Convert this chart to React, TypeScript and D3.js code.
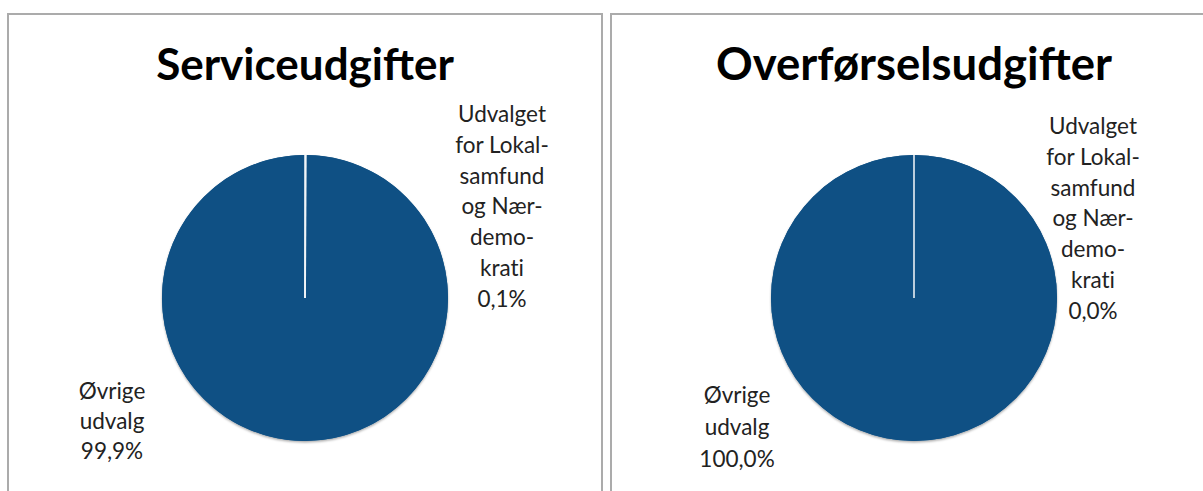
import React, { useEffect, useRef } from 'react';
import * as d3 from 'd3';

// chart titles
const titles = ["Serviceudgifter", "Overførselsudgifter"];

// categories (first slice starts at 12 o'clock, clockwise, like Excel)
const categories = ["Udvalget for Lokalsamfund og Nærdemokrati", "Øvrige udvalg"];
const categoryLines = [
    ["Udvalget", "for Lokal-", "samfund", "og Nær-", "demo-", "krati"],
    ["Øvrige", "udvalg"]
];

// series values (percent)
const serviceValues = [0.1, 99.9];
const overfoerselValues = [0.0, 100.0];

const W = 1203, H = 491;
const pieColor = "#0f5084";
const textColor = "#222";
const font = "Lato, 'Open Sans', sans-serif";

const locale = d3.formatLocale({ decimal: ",", thousands: ".", grouping: [3], currency: ["", " kr."] });
const fmt = locale.format(".1f");

export default function App() {
    const ref = useRef<SVGSVGElement>(null);

    useEffect(() => {
        const svg = d3.select(ref.current);
        svg.selectAll("*").remove();

        const defs = svg.append("defs");
        const f = defs.append("filter").attr("id", "shadow")
            .attr("x", "-10%").attr("y", "-10%").attr("width", "120%").attr("height", "120%");
        f.append("feDropShadow").attr("dx", 0).attr("dy", 1.5).attr("stdDeviation", 1.2)
            .attr("flood-color", "#000").attr("flood-opacity", 0.35);

        // panel layout: frame, pie centre, label anchors
        const panels = [
            { x: 8, w: 594, cx: 305, cy: 298, small: [502, 113], big: [112, 390], bigStep: 30, values: serviceValues },
            { x: 611, w: 620, cx: 914, cy: 298, small: [1093, 125], big: [737, 394], bigStep: 32, values: overfoerselValues }
        ];
        const r = 143;
        const lineStep = 30.8;

        const pie = d3.pie<number>().sort(null).value(d => d);
        const arc = d3.arc<d3.PieArcDatum<number>>().innerRadius(0).outerRadius(r);

        panels.forEach((p, pi) => {
            const g = svg.append("g");

            // frame
            g.append("rect")
                .attr("x", p.x).attr("y", 14)
                .attr("width", p.w).attr("height", H)
                .attr("fill", "#fff")
                .attr("stroke", "#ababab")
                .attr("stroke-width", 2);

            // title
            g.append("text")
                .attr("x", p.cx).attr("y", 80)
                .attr("text-anchor", "middle")
                .style("font-family", font)
                .style("font-weight", "bold")
                .style("font-size", pi === 0 ? "44px" : "45.5px")
                .style("fill", "#000")
                .text(titles[pi]);

            // pie
            const arcs = pie(p.values);
            const pg = g.append("g").attr("transform", "translate(" + p.cx + "," + p.cy + ")");
            pg.append("circle").attr("r", r).attr("fill", pieColor).attr("filter", "url(#shadow)");
            pg.selectAll("path.slice")
                .data(arcs)
                .enter()
                .append("path")
                .attr("class", "slice")
                .attr("d", arc)
                .attr("fill", pieColor);

            // white slice borders (also visible for a 0 % slice)
            pg.selectAll("line.border")
                .data(arcs.filter(a => a.startAngle > 0 || a.index === 0))
                .enter()
                .append("line")
                .attr("class", "border")
                .attr("x1", 0).attr("y1", 0)
                .attr("x2", d => d3.pointRadial(d.startAngle, r)[0])
                .attr("y2", d => d3.pointRadial(d.startAngle, r)[1])
                .attr("stroke", "#fff")
                .attr("stroke-opacity", 0.8)
                .attr("stroke-width", 1.8);

            // data labels
            p.values.forEach((v, i) => {
                const lines = categoryLines[i].concat([fmt(v) + "%"]);
                const [lx, ly] = i === 0 ? p.small : p.big;
                const step = i === 0 ? lineStep : p.bigStep;
                const t = g.append("text")
                    .attr("text-anchor", "middle")
                    .attr("dominant-baseline", "central")
                    .style("font-family", font)
                    .style("font-size", "22.5px")
                    .style("font-variant-ligatures", "none")
                    .style("fill", textColor);
                t.append("title").text(categories[i]);
                lines.forEach((s, k) => {
                    t.append("tspan").attr("x", lx).attr("y", ly + k * step).text(s);
                });
            });
        });
    }, []);

    return (
        <svg ref={ref} width={W} height={H}
            style={{ position: "absolute", left: 0, top: 0, background: "#fff" }} />
    );
}
